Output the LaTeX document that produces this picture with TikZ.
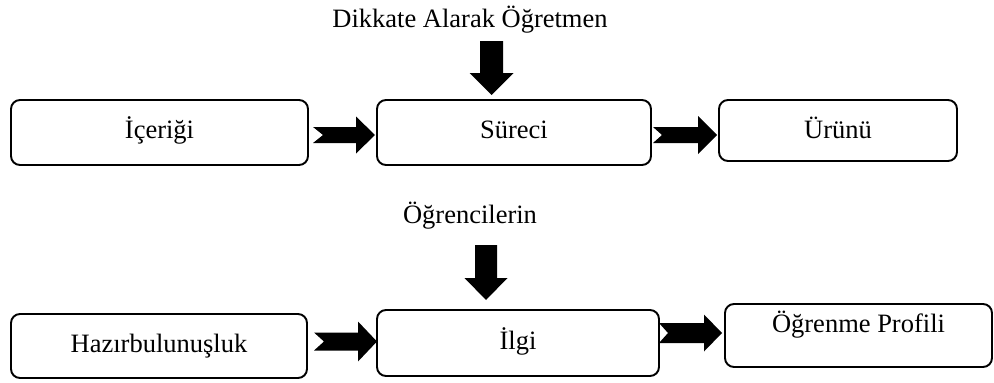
\documentclass[tikz,border=0pt]{standalone}
\usepackage{fontspec}
\setmainfont{Liberation Serif}
\usetikzlibrary{calc}
\tikzset{
  box/.style={draw, line width=1.9pt, rounded corners=9pt, inner sep=0pt, outer sep=0pt,
    font=\fontsize{26.5}{30}\selectfont, text height=18pt, text depth=6pt, align=center},
  lbl/.style={inner sep=0pt, anchor=base, font=\fontsize{26.5}{30}\selectfont}
}
% right block arrow with notched tail: #1 tail, #2 tip, #3 shaft half, #4 head half, #5 head length, #6 notch
\newcommand{\rblock}[6]{%
  \fill let \p1=(#1), \p2=(#2) in
    (\x1,{\y1+#3pt}) -- ({\x2-#5pt},{\y1+#3pt}) -- ({\x2-#5pt},{\y1+#4pt}) -- (\x2,\y1)
    -- ({\x2-#5pt},{\y1-#4pt}) -- ({\x2-#5pt},{\y1-#3pt}) -- (\x1,{\y1-#3pt}) -- ({\x1+#6pt},\y1) -- cycle;}
% down block arrow: #1 tail, #2 tip, #3 shaft half, #4 head half, #5 head length
\newcommand{\dblock}[5]{%
  \fill let \p1=(#1), \p2=(#2) in
    ({\x1-#3pt},\y1) -- ({\x1+#3pt},\y1) -- ({\x1+#3pt},{\y2+#5pt}) -- ({\x1+#4pt},{\y2+#5pt})
    -- (\x1,\y2) -- ({\x1-#4pt},{\y2+#5pt}) -- ({\x1-#3pt},{\y2+#5pt}) -- cycle;}
\begin{document}
\begin{tikzpicture}[x=1pt, y=-1pt]
\useasboundingbox (0,0) rectangle (994,383);

% top row
\node[box, minimum width=297pt, minimum height=65pt] (icerik) at (159.5,132.5) {İçeriği};
\node[box, minimum width=274pt, minimum height=65pt] (surec) at (514,132.5) {Süreci};
\node[box, minimum width=238pt, minimum height=61pt, text depth=2pt] (urun) at (838,130.5) {Ürünü};
\node[lbl] (ogretmen) at (470,27) {Dikkate Alarak Öğretmen};

% bottom row
\node[box, minimum width=296pt, minimum height=64pt] (hazir) at (159,346) {Hazırbulunuşluk};
\node[box, minimum width=282pt, minimum height=66pt] (ilgi) at (518,343) {İlgi};
\node[box, minimum width=267pt, minimum height=63pt, text depth=24pt] (profil) at (858.5,335.5) {Öğrenme Profili};
\node[lbl] (ogrenci) at (470,223) {Öğrencilerin};

% named ends of the block arrows
\coordinate (a1t) at ($(icerik.east)+(5,2.5)$);
\coordinate (a1h) at ($(surec.west)+(-2,2.5)$);
\coordinate (a2t) at ($(surec.east)+(2,2.5)$);
\coordinate (a2h) at ($(urun.west)+(-2,4.5)$);
\coordinate (b1t) at ($(hazir.east)+(7,-4.5)$);
\coordinate (b1h) at ($(ilgi.west)+(0,-1.5)$);
\coordinate (b2t) at ($(ilgi.east)+(0,-10)$);
\coordinate (b2h) at ($(profil.west)+(-3,-2.5)$);
\coordinate (d1t) at ($(surec.north)+(-22.5,-59)$);
\coordinate (d1h) at ($(surec.north)+(-22.5,-5)$);
\coordinate (d2t) at ($(ilgi.north)+(-32,-65)$);
\coordinate (d2h) at ($(ilgi.north)+(-32,-10)$);

\rblock{a1t}{a1h}{8}{18.5}{19}{10}
\rblock{a2t}{a2h}{8}{19}{19}{9}
\rblock{b1t}{b1h}{9}{20}{19}{10}
\rblock{b2t}{b2h}{10}{18.5}{18}{9}
\dblock{d1t}{d1h}{11.5}{22}{22}
\dblock{d2t}{d2h}{11}{21.5}{22}
\end{tikzpicture}
\end{document}
